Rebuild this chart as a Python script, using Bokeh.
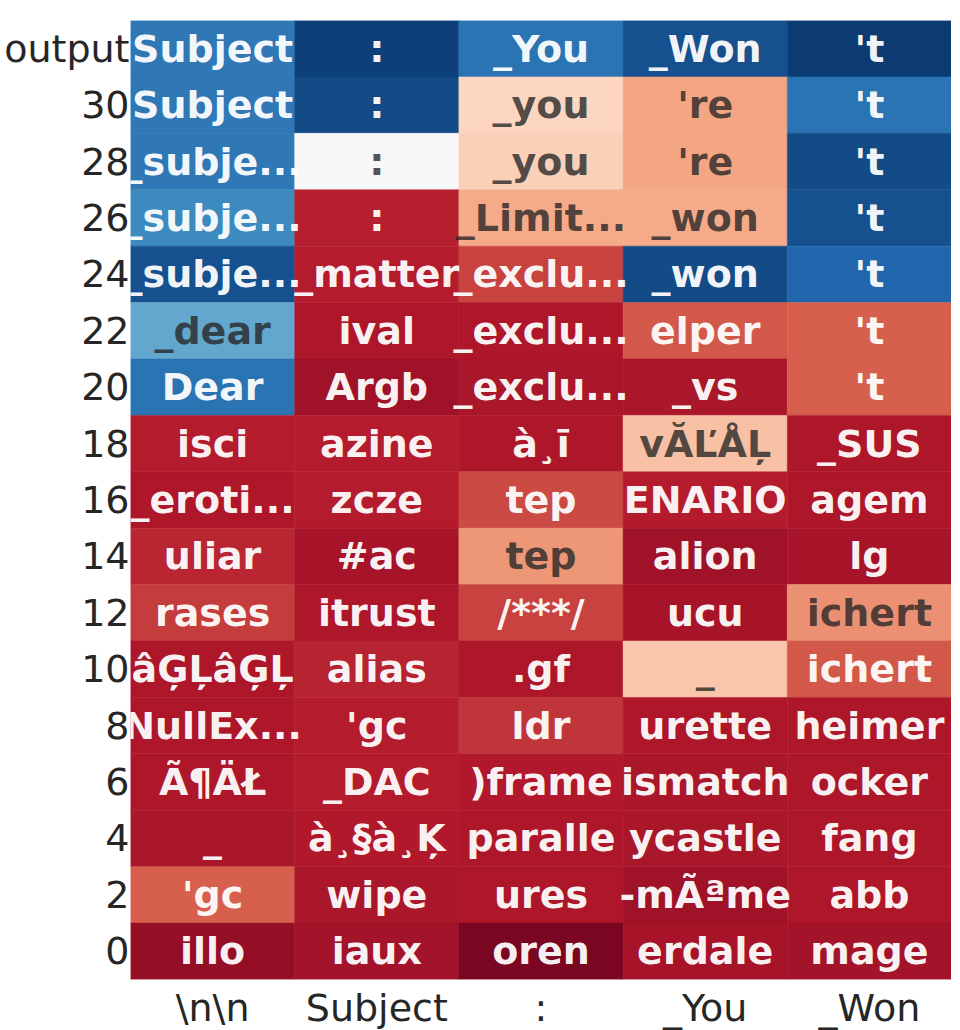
from bokeh.plotting import figure
from bokeh.models import ColumnDataSource, FactorRange
from bokeh.core.properties import value
from bokeh.embed import file_html
from bokeh.resources import INLINE

# ---- data ----
columns = ["\\n\\n", "Subject", ":", "_You", "_Won"]
rows = ["output", "30", "28", "26", "24", "22", "20", "18", "16", "14", "12", "10", "8", "6", "4", "2", "0"]

tokens = [
    ["Subject", ":", "_You", "_Won", "'t"],
    ["Subject", ":", "_you", "'re", "'t"],
    ["_subje...", ":", "_you", "'re", "'t"],
    ["_subje...", ":", "_Limit...", "_won", "'t"],
    ["_subje...", "_matter", "_exclu...", "_won", "'t"],
    ["_dear", "ival", "_exclu...", "elper", "'t"],
    ["Dear", "Argb", "_exclu...", "_vs", "'t"],
    ["isci", "azine", "à¸ī", "vĂĽÅĻ", "_SUS"],
    ["_eroti...", "zcze", "tep", "ENARIO", "agem"],
    ["uliar", "#ac", "tep", "alion", "lg"],
    ["rases", "itrust", "/***/", "ucu", "ichert"],
    ["âĢĻâĢĻ", "alias", ".gf", "_", "ichert"],
    ["NullEx...", "'gc", "ldr", "urette", "heimer"],
    ["Ã¶ÄŁ", "_DAC", ")frame", "ismatch", "ocker"],
    ["_", "à¸§à¸Ķ", "paralle", "ycastle", "fang"],
    ["'gc", "wipe", "ures", "-mÃªme", "abb"],
    ["illo", "iaux", "oren", "erdale", "mage"],
]

probs = [
    [0.86, 0.97, 0.87, 0.94, 0.98],
    [0.86, 0.95, 0.39, 0.30, 0.87],
    [0.86, 0.50, 0.38, 0.30, 0.95],
    [0.82, 0.11, 0.31, 0.31, 0.94],
    [0.94, 0.105, 0.16, 0.95, 0.90],
    [0.76, 0.095, 0.095, 0.19, 0.20],
    [0.87, 0.075, 0.09, 0.09, 0.20],
    [0.105, 0.105, 0.095, 0.35, 0.095],
    [0.095, 0.105, 0.17, 0.105, 0.095],
    [0.12, 0.085, 0.28, 0.075, 0.085],
    [0.15, 0.095, 0.16, 0.085, 0.27],
    [0.095, 0.115, 0.095, 0.36, 0.19],
    [0.095, 0.105, 0.14, 0.095, 0.095],
    [0.095, 0.105, 0.10, 0.09, 0.095],
    [0.09, 0.10, 0.095, 0.09, 0.095],
    [0.20, 0.09, 0.095, 0.075, 0.095],
    [0.06, 0.08, 0.025, 0.085, 0.08],
]

# ---- colour map (RdBu anchors) ----
anchors = ["#67001f", "#b2182b", "#d6604d", "#f4a582", "#fddbc7", "#f7f7f7",
           "#d1e5f0", "#92c5de", "#4393c3", "#2166ac", "#053061"]


def hex2rgb(h):
    return tuple(int(h[i:i + 2], 16) for i in (1, 3, 5))


anchor_rgb = [hex2rgb(a) for a in anchors]


def cmap(v):
    v = min(max(v, 0.0), 1.0)
    pos = v * (len(anchors) - 1)
    i = min(int(pos), len(anchors) - 2)
    f = pos - i
    c0, c1 = anchor_rgb[i], anchor_rgb[i + 1]
    rgb = [round(c0[k] + (c1[k] - c0[k]) * f) for k in range(3)]
    return "#%02x%02x%02x" % tuple(rgb), rgb


def luminance(rgb):
    def lin(c):
        c = c / 255.0
        return c / 12.92 if c <= 0.03928 else ((c + 0.055) / 1.055) ** 2.4
    r, g, b = (lin(c) for c in rgb)
    return 0.2126 * r + 0.7152 * g + 0.0722 * b


xs, ys, fills, labels, tcolors, talphas = [], [], [], [], [], []
for ri, r in enumerate(rows):
    for ci, c in enumerate(columns):
        col, rgb = cmap(probs[ri][ci])
        xs.append(c)
        ys.append(r)
        fills.append(col)
        labels.append(tokens[ri][ci])
        if luminance(rgb) > 0.3:
            tcolors.append("#262626")
            talphas.append(0.8)
        else:
            tcolors.append("#ffffff")
            talphas.append(0.95)

src = ColumnDataSource(dict(x=xs, y=ys, fill=fills, label=labels, tc=tcolors, ta=talphas))

p = figure(
    x_range=FactorRange(*columns),
    y_range=FactorRange(*rows[::-1]),
    frame_width=821, frame_height=959,
    output_backend="svg", toolbar_location=None,
    min_border_left=130, min_border_right=0, min_border_top=20, min_border_bottom=30,
)

p.rect(x="x", y="y", width=1, height=1, source=src, fill_color="fill",
       line_color="fill", line_width=0.5)
p.text(x="x", y="y", text="label", source=src, text_align="center",
       text_baseline="middle", text_font=value("DejaVu Sans"), text_font_style="bold",
       text_font_size="38px", text_color="tc", text_alpha="ta")

p.outline_line_color = None
p.xgrid.grid_line_color = None
p.ygrid.grid_line_color = None
for ax in (p.xaxis[0], p.yaxis[0]):
    ax.axis_line_color = None
    ax.major_tick_line_color = None
    ax.minor_tick_line_color = None
    ax.major_tick_out = 0
    ax.major_tick_in = 0
    ax.major_label_text_font = "DejaVu Sans"
    ax.major_label_text_color = "#262626"
p.yaxis.major_label_text_font_size = "38px"
p.yaxis.major_label_standoff = 1
p.xaxis.major_label_text_font_size = "38px"
p.xaxis.major_label_standoff = 6
p.background_fill_color = "white"
p.border_fill_color = "white"

open("out.html", "w").write(file_html(p, INLINE))
